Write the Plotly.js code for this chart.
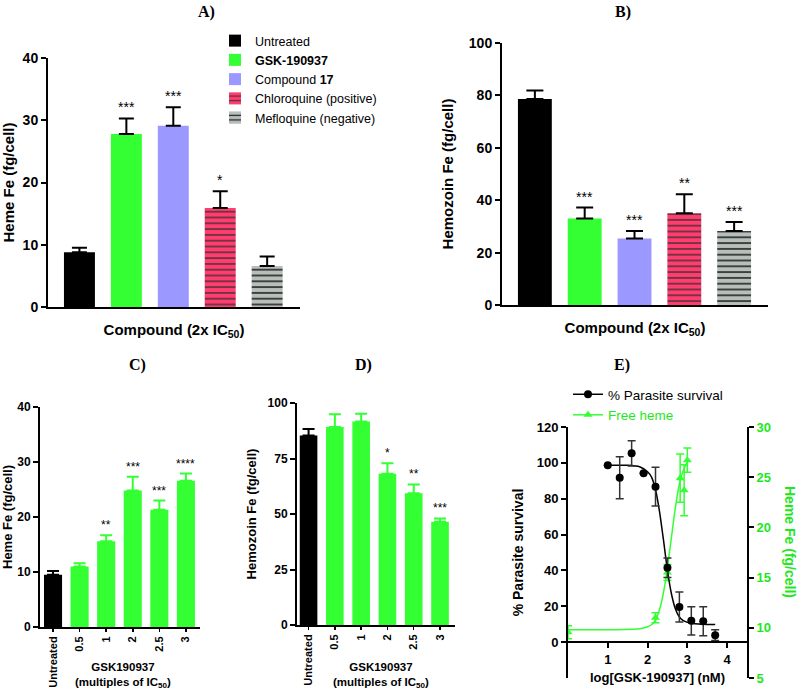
<!DOCTYPE html>
<html>
<head>
<meta charset="utf-8">
<script src="https://cdn.plot.ly/plotly-3.0.1.min.js"></script>
<style>html,body{margin:0;padding:0;background:#fff;}#chart{width:798px;height:690px;}</style>
</head>
<body>
<div id="chart"></div>
<script>
// ---------- data ----------
const compounds = ["Untreated", "GSK-190937", "Compound 17", "Chloroquine (positive)", "Mefloquine (negative)"];
const compoundLegend = ["Untreated", "<b>GSK-190937</b>", "Compound <b>17</b>", "Chloroquine (positive)", "Mefloquine (negative)"];
const hemeA = [8.8, 27.8, 29.1, 15.9, 6.6];
const hemeAErr = [0.7, 2.5, 3.0, 2.7, 1.5];
const hemeAStars = ["", "***", "***", "*", ""];
const hemozoinB = [78.6, 33.0, 25.4, 35.0, 28.2];
const hemozoinBErr = [3.3, 4.2, 2.8, 7.3, 3.5];
const hemozoinBStars = ["", "***", "***", "**", "***"];

const doseLabels = ["Untreated", "0.5", "1", "2", "2.5", "3"];
const hemeC = [9.5, 11.0, 15.6, 24.8, 21.3, 26.6];
const hemeCErr = [0.7, 0.6, 1.1, 2.5, 1.7, 1.3];
const hemeCStars = ["", "", "**", "***", "***", "****"];
const hemozoinD = [85.4, 89.2, 91.7, 68.1, 59.4, 46.5];
const hemozoinDErr = [2.9, 5.7, 3.5, 4.8, 3.9, 1.5];
const hemozoinDStars = ["", "", "", "*", "**", "***"];

const survX = [1.0, 1.3, 1.6, 1.9, 2.2, 2.5, 2.8, 3.1, 3.4, 3.7];
const survY = [98.7, 91.7, 105.3, 94.2, 86.7, 41.5, 19.6, 11.9, 11.6, 3.9];
const survErr = [0, 11.7, 7.1, 0, 10.8, 5.5, 8.4, 7.9, 8.1, 3.0];
const survFitX = [1.0, 1.5, 1.8, 2.0, 2.1, 2.2, 2.3, 2.4, 2.5, 2.6, 2.7, 2.8, 2.9, 3.1, 3.4, 3.7];
const survFitY = [98.7, 98.6, 97.8, 95.0, 92.0, 85.0, 73.0, 57.0, 40.0, 27.0, 18.5, 14.0, 12.0, 10.5, 10.0, 9.8];

const freeHemeX = [0, 2.2, 2.5, 2.82, 2.92, 3.0];
const freeHemeY = [9.55, 11.0, 15.5, 24.9, 23.7, 26.7];
const freeHemeErr = [0.65, 0.5, 0.8, 2.4, 2.55, 1.2];
const hemeFitX = [0, 1.0, 1.8, 2.0, 2.1, 2.2, 2.3, 2.4, 2.5, 2.6, 2.7, 2.8, 2.9, 3.0];
const hemeFitY = [9.8, 9.8, 9.9, 10.1, 10.3, 10.8, 11.8, 13.5, 16.0, 19.0, 22.0, 24.3, 25.7, 26.5];

// ---------- styles ----------
const W = 798, H = 690;
const FONT = "Liberation Sans, Arial, sans-serif";
const SERIF = "Liberation Serif, Times New Roman, serif";
const GREEN = "#33ff33";
const GREEN_TXT = "#1ee81e";
const barStyles = [
  {color: "#000000"},
  {color: GREEN},
  {color: "#9b99ff"},
  {color: "#ff3d6e", pattern: {shape: "-", fillmode: "overlay", bgcolor: "#ff3d6e", fgcolor: "#4a2f38", fgopacity: 1, size: 5.8, solidity: 0.25}},
  {color: "#b7bfbb", pattern: {shape: "-", fillmode: "overlay", bgcolor: "#b7bfbb", fgcolor: "#151515", fgopacity: 1, size: 5.8, solidity: 0.25}}
];
const px = v => v / W;
const py = v => 1 - v / H;

const traces = [];
// Panel A
compounds.forEach((c, i) => {
  traces.push({
    type: "bar", x: [c], y: [hemeA[i]], name: compoundLegend[i], width: 0.66,
    marker: Object.assign({line: {width: 0}}, barStyles[i]),
    error_y: {type: "data", symmetric: false, array: [hemeAErr[i]], arrayminus: [0], color: "#000", thickness: 2, width: 7.5},
    xaxis: "x", yaxis: "y", legend: "legend", showlegend: true, hoverinfo: "skip"
  });
});
// Panel B
compounds.forEach((c, i) => {
  traces.push({
    type: "bar", x: [c], y: [hemozoinB[i]], name: compoundLegend[i], width: 0.68,
    marker: Object.assign({line: {width: 0}}, barStyles[i]),
    error_y: {type: "data", symmetric: false, array: [hemozoinBErr[i]], arrayminus: [0], color: "#000", thickness: 2, width: 8.5},
    xaxis: "x2", yaxis: "y2", showlegend: false, hoverinfo: "skip"
  });
});
// Panel C
traces.push({type: "bar", x: doseLabels.slice(0, 1), y: hemeC.slice(0, 1), width: 0.68, marker: {color: "#000"},
  error_y: {type: "data", symmetric: false, array: hemeCErr.slice(0, 1), arrayminus: [0], color: "#000", thickness: 2, width: 6},
  xaxis: "x3", yaxis: "y3", showlegend: false, hoverinfo: "skip"});
traces.push({type: "bar", x: doseLabels.slice(1), y: hemeC.slice(1), width: 0.68, marker: {color: GREEN},
  error_y: {type: "data", symmetric: false, array: hemeCErr.slice(1), arrayminus: hemeCErr.slice(1).map(() => 0), color: GREEN, thickness: 2, width: 6},
  xaxis: "x3", yaxis: "y3", showlegend: false, hoverinfo: "skip"});
// Panel D
traces.push({type: "bar", x: doseLabels.slice(0, 1), y: hemozoinD.slice(0, 1), width: 0.67, marker: {color: "#000"},
  error_y: {type: "data", symmetric: false, array: hemozoinDErr.slice(0, 1), arrayminus: [0], color: "#000", thickness: 2, width: 6},
  xaxis: "x4", yaxis: "y4", showlegend: false, hoverinfo: "skip"});
traces.push({type: "bar", x: doseLabels.slice(1), y: hemozoinD.slice(1), width: 0.67, marker: {color: GREEN},
  error_y: {type: "data", symmetric: false, array: hemozoinDErr.slice(1), arrayminus: hemozoinDErr.slice(1).map(() => 0), color: GREEN, thickness: 2, width: 6},
  xaxis: "x4", yaxis: "y4", showlegend: false, hoverinfo: "skip"});
// Panel E (heme = base axis y5 on right; survival = overlay y6 on left, drawn on top)
traces.push({type: "scatter", mode: "lines", x: hemeFitX, y: hemeFitY, line: {color: GREEN, width: 1.5, shape: "spline", smoothing: 0.6},
  xaxis: "x5", yaxis: "y5", showlegend: false, hoverinfo: "skip"});
traces.push({type: "scatter", mode: "markers", x: freeHemeX, y: freeHemeY, marker: {color: GREEN, symbol: "triangle-up", size: 8},
  error_y: {type: "data", array: freeHemeErr, color: GREEN, thickness: 1.5, width: 4},
  xaxis: "x5", yaxis: "y5", showlegend: false, hoverinfo: "skip"});
traces.push({type: "scatter", mode: "lines", x: survFitX, y: survFitY, line: {color: "#000", width: 1.5, shape: "spline", smoothing: 0.6},
  xaxis: "x5", yaxis: "y6", showlegend: false, hoverinfo: "skip"});
traces.push({type: "scatter", mode: "markers", x: survX, y: survY, marker: {color: "#000", symbol: "circle", size: 8},
  error_y: {type: "data", array: survErr, color: "#333", thickness: 1.5, width: 4},
  xaxis: "x5", yaxis: "y6", showlegend: false, hoverinfo: "skip"});
// legend entries for E
traces.push({type: "scatter", mode: "lines+markers", x: [null], y: [null], name: "% Parasite survival",
  line: {color: "#000", width: 1.5}, marker: {color: "#000", symbol: "circle", size: 8},
  xaxis: "x5", yaxis: "y6", legend: "legend2", showlegend: true, hoverinfo: "skip"});
traces.push({type: "scatter", mode: "lines+markers", x: [null], y: [null], name: "<span style=\"color:" + GREEN_TXT + "\">Free heme</span>",
  line: {color: GREEN, width: 1.5}, marker: {color: GREEN, symbol: "triangle-up", size: 8},
  xaxis: "x5", yaxis: "y5", legend: "legend2", showlegend: true, hoverinfo: "skip"});

// ---------- axes ----------
function yAx(domTop, domBot, range, dtick, fs, extra) {
  return Object.assign({
    domain: [py(domBot), py(domTop)], range: range, dtick: dtick, showline: true, linecolor: "#000", linewidth: 2,
    ticks: "outside", tickcolor: "#000", tickwidth: 2, ticklen: 5, showgrid: false, zeroline: false,
    tickfont: {family: FONT, size: fs, color: "#000", weight: "bold"}, fixedrange: true
  }, extra || {});
}
function xAx(left, right, range, extra) {
  return Object.assign({
    domain: [px(left), px(right)], range: range, type: "category", showline: true, linecolor: "#000", linewidth: 2,
    showgrid: false, zeroline: false, fixedrange: true
  }, extra || {});
}

const annotations = [];
function panelTitle(t, x, y) {
  annotations.push({text: t, xref: "paper", yref: "paper", x: px(x), y: py(y), showarrow: false,
    font: {family: SERIF, size: 16, color: "#000", weight: "bold"}, xanchor: "center", yanchor: "middle"});
}
panelTitle("A)", 206, 12);
panelTitle("B)", 623, 12);
panelTitle("C)", 137, 365);
panelTitle("D)", 363, 365);
panelTitle("E)", 622, 365);

function stars(labels, vals, errs, xr, yr, fs) {
  labels.forEach((s, i) => {
    if (!s) return;
    annotations.push({text: s, x: i, y: vals[i] + errs[i], xref: xr, yref: yr, showarrow: false,
      yanchor: "bottom", yshift: 1, font: {family: FONT, size: fs, color: "#000"}});
  });
}
stars(hemeAStars, hemeA, hemeAErr, "x", "y", 14);
stars(hemozoinBStars, hemozoinB, hemozoinBErr, "x2", "y2", 14);
stars(hemeCStars, hemeC, hemeCErr, "x3", "y3", 12);
stars(hemozoinDStars, hemozoinD, hemozoinDErr, "x4", "y4", 12);

// x-axis titles for C, D (below rotated tick labels)
const doseTitle = "GSK190937<br>(multiples of IC<sub>50</sub>)";
annotations.push({text: doseTitle, xref: "paper", yref: "paper", x: px(123), y: py(675), showarrow: false,
  font: {family: FONT, size: 11.5, color: "#000", weight: "bold"}, xanchor: "center", yanchor: "middle"});
annotations.push({text: doseTitle, xref: "paper", yref: "paper", x: px(381), y: py(675), showarrow: false,
  font: {family: FONT, size: 11.5, color: "#000", weight: "bold"}, xanchor: "center", yanchor: "middle"});
// right-axis title for E (reads top to bottom)
annotations.push({text: "Heme Fe (fg/cell)", xref: "paper", yref: "paper", x: px(790), y: py(542), showarrow: false,
  textangle: 90, font: {family: FONT, size: 14, color: GREEN_TXT, weight: "bold"}, xanchor: "center", yanchor: "middle"});

const catA = {type: "category", categoryorder: "array", categoryarray: compounds};
const catD = {type: "category", categoryorder: "array", categoryarray: doseLabels};
const doseTickFont = {family: FONT, size: 11, color: "#000", weight: "bold"};

const layout = {
  width: W, height: H, margin: {l: 0, r: 0, t: 0, b: 0}, paper_bgcolor: "#fff", plot_bgcolor: "rgba(0,0,0,0)",
  barmode: "overlay", font: {family: FONT, color: "#000"}, hovermode: false,
  // A
  xaxis: xAx(48, 300, [-0.67, 4.70], Object.assign({}, catA, {anchor: "y", showticklabels: false, ticks: "",
    title: {text: "Compound (2x IC<sub>50</sub>)", font: {family: FONT, size: 15, color: "#000", weight: "bold"}, standoff: 16}})),
  yaxis: yAx(58, 307, [0, 40], 10, 14, {anchor: "x",
    title: {text: "Heme Fe (fg/cell)", font: {family: FONT, size: 15, color: "#000", weight: "bold"}, standoff: 12}}),
  // B
  xaxis2: xAx(502, 768, [-0.66, 4.68], Object.assign({}, catA, {anchor: "y2", showticklabels: false, ticks: "",
    title: {text: "Compound (2x IC<sub>50</sub>)", font: {family: FONT, size: 15, color: "#000", weight: "bold"}, standoff: 16}})),
  yaxis2: yAx(43, 305, [0, 100], 20, 14, {anchor: "x2",
    title: {text: "Hemozoin Fe (fg/cell)", font: {family: FONT, size: 15, color: "#000", weight: "bold"}, standoff: 12}}),
  // C
  xaxis3: xAx(40, 200, [-0.49, 5.53], Object.assign({}, catD, {anchor: "y3", ticks: "outside", ticklen: 3, tickwidth: 1.5, tickcolor: "#000",
    tickangle: -90, tickfont: doseTickFont})),
  yaxis3: yAx(407, 627, [0, 40], 10, 12, {anchor: "x3",
    title: {text: "Heme Fe (fg/cell)", font: {family: FONT, size: 13, color: "#000", weight: "bold"}, standoff: 8}}),
  // D
  xaxis4: xAx(297, 455, [-0.44, 5.57], Object.assign({}, catD, {anchor: "y4", ticks: "outside", ticklen: 3, tickwidth: 1.5, tickcolor: "#000",
    tickangle: -90, tickfont: doseTickFont})),
  yaxis4: yAx(403, 625, [0, 100], 25, 12, {anchor: "x4",
    title: {text: "Hemozoin Fe (fg/cell)", font: {family: FONT, size: 13, color: "#000", weight: "bold"}, standoff: 8}}),
  // E
  xaxis5: {domain: [px(568), px(747)], range: [0, 4.5], anchor: "free", position: py(642), tickvals: [1, 2, 3, 4],
    showline: true, linecolor: "#000", linewidth: 2, ticks: "outside", ticklen: 5, tickwidth: 2, tickcolor: "#000",
    showgrid: false, zeroline: false, fixedrange: true, tickfont: {family: FONT, size: 13, color: "#000", weight: "bold"},
    title: {text: "log[GSK-190937] (nM)", font: {family: FONT, size: 13, color: "#000", weight: "bold"}, standoff: 6}},
  yaxis5: yAx(427, 678, [5, 30], 5, 13, {anchor: "x5", side: "right", tickfont: {family: FONT, size: 13, color: GREEN_TXT, weight: "bold"}}),
  yaxis6: yAx(427, 678, [-20, 120], 20, 13, {anchor: "x5", side: "left", overlaying: "y5", tickvals: [0, 20, 40, 60, 80, 100, 120],
    title: {text: "% Parasite survival", font: {family: FONT, size: 14, color: "#000", weight: "bold"}, standoff: 10}}),
  legend: {x: px(215), y: py(26), xanchor: "left", yanchor: "top", bgcolor: "rgba(0,0,0,0)", borderwidth: 0,
    font: {family: FONT, size: 12.5, color: "#000"}, tracegroupgap: 0},
  legend2: {x: px(568), y: py(379), xanchor: "left", yanchor: "top", bgcolor: "rgba(0,0,0,0)", borderwidth: 0,
    font: {family: FONT, size: 13.5, color: "#000"}},
  annotations: annotations
};

Plotly.newPlot("chart", traces, layout, {staticPlot: true, displayModeBar: false});
</script>
</body>
</html>
